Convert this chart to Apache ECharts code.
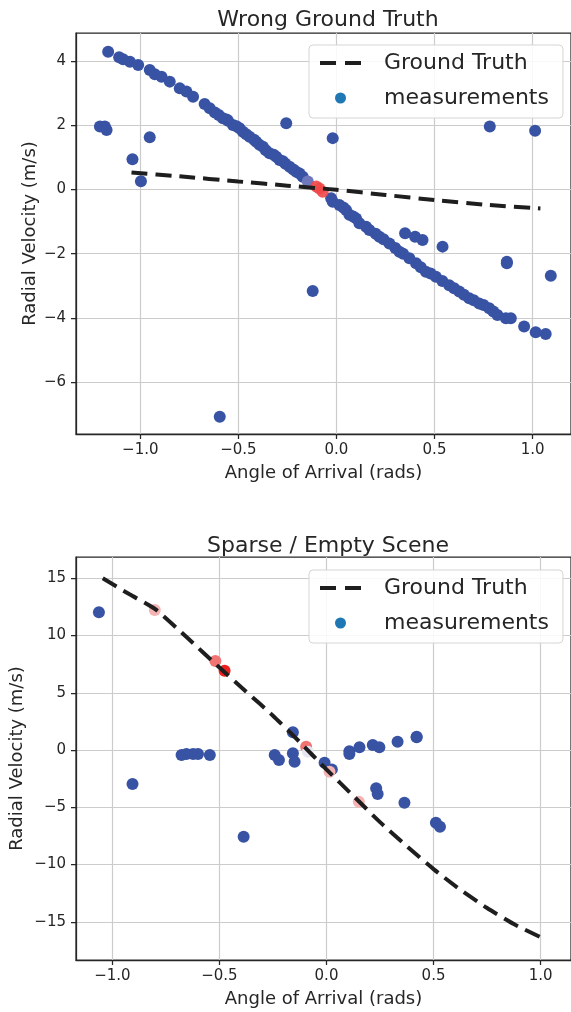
<!DOCTYPE html>
<html>
<head>
<meta charset="utf-8">
<script src="https://cdn.jsdelivr.net/npm/echarts@6.0.0/dist/echarts.min.js"></script>
<style>
html,body{margin:0;padding:0;background:#fff;}
#chart{width:571px;height:1012px;}
</style>
</head>
<body>
<div id="chart"></div>
<script>
// ---------- Data ----------
const titles = ['Wrong Ground Truth', 'Sparse / Empty Scene'];
const xTicks = [-1.0, -0.5, 0.0, 0.5, 1.0];
const topYTicks = [-6, -4, -2, 0, 2, 4];
const bottomYTicks = [-15, -10, -5, 0, 5, 10, 15];

// Top panel: measurements [angle, radial velocity]
const topMeasurements = [
  [-1.164,4.29],[-1.108,4.12],[-1.088,4.06],[-1.053,3.98],[-1.011,3.88],[-0.952,3.72],[-0.926,3.59],
  [-0.892,3.51],[-0.850,3.36],[-0.799,3.15],[-0.765,3.05],[-0.731,2.89],[-0.672,2.66],[-0.646,2.53],
  [-0.620,2.40],[-0.600,2.32],[-0.579,2.22],[-0.560,2.18],[-0.553,2.14],[-0.528,2.01],[-0.510,1.97],
  [-0.494,1.91],[-0.477,1.80],[-0.460,1.72],[-0.443,1.64],[-0.420,1.55],[-0.409,1.49],[-0.392,1.39],
  [-0.375,1.33],[-0.360,1.22],[-0.341,1.13],[-0.320,1.08],[-0.307,1.02],[-0.290,0.92],[-0.273,0.88],
  [-0.260,0.80],[-0.239,0.71],[-0.220,0.62],[-0.205,0.55],[-0.188,0.50],[-0.172,0.40],
  [-0.027,-0.27],[-0.019,-0.38],[0.015,-0.48],[0.035,-0.56],[0.049,-0.64],[0.066,-0.79],[0.085,-0.84],
  [0.100,-0.90],[0.117,-1.05],[0.151,-1.16],[0.168,-1.26],[0.200,-1.38],[0.219,-1.47],[0.240,-1.55],
  [0.270,-1.68],[0.300,-1.82],[0.321,-1.94],[0.340,-2.00],[0.372,-2.14],[0.406,-2.30],[0.430,-2.42],
  [0.456,-2.56],[0.480,-2.62],[0.507,-2.72],[0.540,-2.85],[0.575,-2.98],[0.600,-3.08],[0.626,-3.18],
  [0.650,-3.28],[0.677,-3.39],[0.700,-3.45],[0.728,-3.55],[0.750,-3.60],[0.779,-3.70],[0.800,-3.80],
  [0.821,-3.91],[0.864,-4.01],[0.889,-4.01],[0.957,-4.27],[1.016,-4.45],[1.067,-4.50],
  // outliers
  [-1.206,1.96],[-1.181,1.96],[-1.172,1.85],[-1.040,0.94],[-0.997,0.26],[-0.952,1.63],[-0.256,2.06],
  [-0.019,1.60],[-0.121,-3.16],[-0.595,-7.08],[0.350,-1.36],[0.401,-1.47],[0.439,-1.57],[0.541,-1.78],
  [0.782,1.96],[1.013,1.83],[0.869,-2.30],[0.869,-2.25],[1.093,-2.69]
];
const topPurple = [[-0.146,0.25]];
const topRed = [[-0.103,0.09],[-0.087,0.03],[-0.070,-0.07]];
const topGroundTruth = [[-1.045,0.53],[-0.8,0.41],[-0.5,0.25],[-0.25,0.12],[0,-0.01],[0.25,-0.17],[0.5,-0.33],[0.75,-0.47],[1.04,-0.59]];

// Bottom panel
const bottomMeasurements = [
  [-1.063,12.03],[-0.157,1.55],[-0.677,-0.44],[-0.654,-0.35],[-0.623,-0.35],[-0.600,-0.35],[-0.545,-0.44],
  [-0.242,-0.44],[-0.222,-0.87],[-0.157,-0.29],[-0.149,-1.02],[-0.906,-2.97],[-0.387,-7.57],
  [-0.009,-1.11],[0.025,-1.69],[0.107,-0.35],[0.107,-0.10],[0.154,0.24],[0.216,0.44],[0.247,0.24],
  [0.332,0.72],[0.421,1.11],[0.421,1.17],[0.232,-3.34],[0.239,-3.84],[0.364,-4.60],[0.511,-6.35],[0.530,-6.70]
];
const bottomPink = [[-0.802,12.23],[0.014,-1.90],[0.151,-4.52]];
const bottomSalmon = [[-0.519,7.77],[-0.095,0.29]];
const bottomRed = [[-0.476,6.93]];
const bottomLavender = [[-0.087,-0.15]];
const bottomGroundTruth = [
  [-1.045,15.0],[-0.92,13.6],[-0.8,12.3],[-0.65,9.8],[-0.5,7.2],[-0.375,5.1],[-0.25,3.0],[-0.125,0.7],
  [0,-1.7],[0.125,-4.0],[0.25,-6.3],[0.375,-8.4],[0.5,-10.4],[0.625,-12.2],[0.75,-13.8],[0.875,-15.2],[1.016,-16.5]
];

// ---------- Styling ----------
const FONT = 'DejaVu Sans';
const INK = '#262626';
const BLUE = '#3953a4';
const fmtX = v => (v < -1e-9 ? '\u2212' : '') + Math.abs(v).toFixed(1);
const fmtY = v => (v < -1e-9 ? '\u2212' : '') + Math.abs(Math.round(v));

function xAxis(gi, min, max) {
  return {
    gridIndex: gi, type: 'value', min: min, max: max,
    name: 'Angle of Arrival (rads)', nameLocation: 'middle', nameGap: 30, nameMoveOverlap: false,
    nameTextStyle: {fontFamily: FONT, fontSize: 18, color: INK},
    axisLine: {show: true, onZero: false, lineStyle: {color: INK, width: 1.25}},
    axisTick: {show: true, length: 5, inside: false, customValues: xTicks, lineStyle: {color: INK, width: 1.25}},
    axisLabel: {customValues: xTicks, formatter: fmtX, fontFamily: FONT, fontSize: 15, color: INK, margin: 9},
    splitLine: {show: true, lineStyle: {color: '#cccccc', width: 1.2}}
  };
}
function yAxis(gi, min, max, ticks, gap) {
  return {
    gridIndex: gi, type: 'value', min: min, max: max,
    name: 'Radial Velocity (m/s)', nameLocation: 'middle', nameGap: gap, nameMoveOverlap: false,
    nameTextStyle: {fontFamily: FONT, fontSize: 18, color: INK},
    axisLine: {show: true, onZero: false, lineStyle: {color: INK, width: 1.25}},
    axisTick: {show: true, length: 5, inside: false, customValues: ticks, lineStyle: {color: INK, width: 1.25}},
    axisLabel: {customValues: ticks, formatter: fmtY, fontFamily: FONT, fontSize: 15, color: INK, margin: 10},
    splitLine: {show: true, lineStyle: {color: '#cccccc', width: 1.2}}
  };
}
function scatter(name, data, gi, color, z) {
  return {
    name: name, type: 'scatter', xAxisIndex: gi, yAxisIndex: gi, data: data,
    symbol: 'circle', symbolSize: 12, z: z || 2,
    itemStyle: {color: color, opacity: 1}
  };
}
function gtLine(data, gi) {
  return {
    name: 'Ground Truth', type: 'line', xAxisIndex: gi, yAxisIndex: gi, data: data,
    symbol: 'none', showSymbol: false, smooth: 0.2, z: 10,
    lineStyle: {color: '#1e1e1e', width: 4, type: [16, 8], cap: 'butt'},
    itemStyle: {color: '#1f77b4'}
  };
}
function legend(top) {
  return {
    orient: 'vertical', left: 309, top: top,
    padding: [6, 14, 8, 9], itemGap: 11, itemWidth: 41, itemHeight: 11,
    backgroundColor: 'rgba(255,255,255,0.85)', borderColor: '#d5d5d5', borderWidth: 1, borderRadius: 4,
    textStyle: {fontFamily: FONT, fontSize: 22, color: INK, lineHeight: 24, padding: [0, 0, 0, 18]},
    lineStyle: {width: 4, type: [16, 9], color: '#1e1e1e', cap: 'butt'},
    data: [
      {name: 'Ground Truth', itemStyle: {opacity: 0, color: 'transparent', borderWidth: 0}},
      {name: 'measurements', icon: 'circle', itemStyle: {color: '#1f77b4', opacity: 1, borderWidth: 0}}
    ]
  };
}

const option = {
  animation: false,
  backgroundColor: '#ffffff',
  title: [
    {text: titles[0], left: 323, textAlign: 'center', top: 4, textStyle: {fontFamily: FONT, fontSize: 22, fontWeight: 'normal', color: INK}},
    {text: titles[1], left: 323, textAlign: 'center', top: 530, textStyle: {fontFamily: FONT, fontSize: 22, fontWeight: 'normal', color: INK}}
  ],
  grid: [
    {left: 76, top: 33, width: 496, height: 401, show: true, borderColor: INK, borderWidth: 1.25, backgroundColor: '#fff'},
    {left: 76, top: 557, width: 496, height: 403, show: true, borderColor: INK, borderWidth: 1.25, backgroundColor: '#fff'}
  ],
  xAxis: [xAxis(0, -1.328, 1.196), xAxis(1, -1.170, 1.142)],
  yAxis: [yAxis(0, -7.617, 4.875, topYTicks, 37), yAxis(1, -18.34, 16.86, bottomYTicks, 50)],
  legend: [legend(45), legend(570)],
  series: [
    scatter('measurements', topMeasurements, 0, BLUE, 2),
    scatter('hl-purple-top', topPurple, 0, '#7078bd', 3),
    scatter('hl-red-top', topRed, 0, 'rgba(240,72,72,0.9)', 3),
    gtLine(topGroundTruth, 0),
    scatter('measurements', bottomMeasurements, 1, BLUE, 2),
    scatter('hl-pink-bottom', bottomPink, 1, '#f5b3b3', 3),
    scatter('hl-salmon-bottom', bottomSalmon, 1, '#f07474', 3),
    scatter('hl-red-bottom', bottomRed, 1, '#ee1f1f', 3),
    scatter('hl-lav-bottom', bottomLavender, 1, '#e6e6f2', 4),
    gtLine(bottomGroundTruth, 1)
  ]
};
const chart = echarts.init(document.getElementById('chart'), null, {renderer: 'canvas'});
chart.setOption(option);
</script>
</body>
</html>
